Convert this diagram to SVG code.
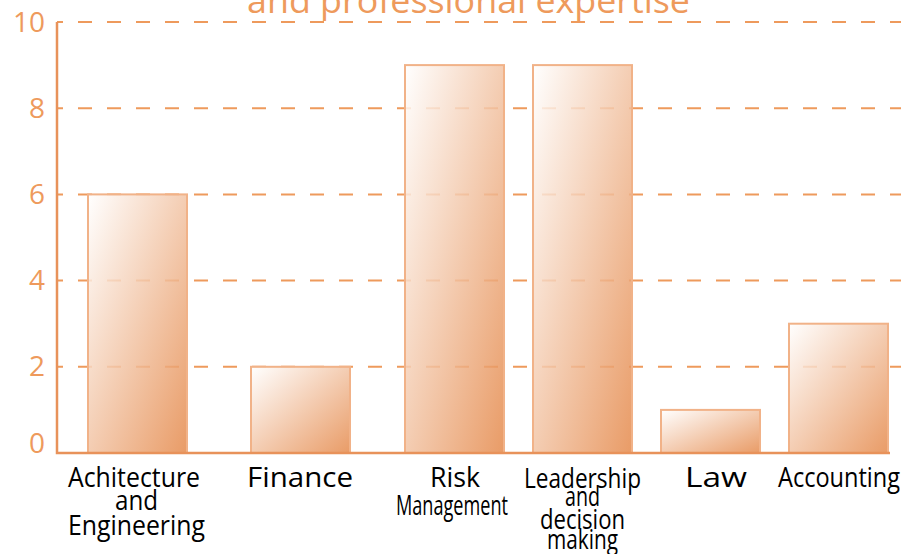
<svg xmlns="http://www.w3.org/2000/svg" width="901" height="554" viewBox="0 0 901 554">
<defs>
<linearGradient id="barGrad" x1="0" y1="0" x2="1" y2="1">
<stop offset="0" stop-color="#FFFFFF"/>
<stop offset="1" stop-color="#E58A4C"/>
</linearGradient>
</defs>
<style>
.grid{stroke:#EE9A5C;stroke-width:2;stroke-dasharray:14 15;stroke-dashoffset:8;fill:none}
.axis{stroke:#E8925A;stroke-width:2.5;fill:none}
.bar{fill:url(#barGrad);fill-opacity:0.85;stroke:#F1B288;stroke-width:2}
.ylab{font-family:"Open Sans","Noto Sans",sans-serif;font-size:28px;fill:#EE9A5C;text-anchor:end}
.title{font-family:"Open Sans","Noto Sans",sans-serif;font-size:35px;fill:#EE9A5C}
.xlab{font-family:"Open Sans","Noto Sans",sans-serif;font-size:28px;fill:#000000}
</style>
<rect width="901" height="554" fill="#FFFFFF"/>
<text class="title" x="247" y="13" textLength="443" lengthAdjust="spacingAndGlyphs">and professional expertise</text>
<g id="gridlines">
<line class="grid" x1="57" y1="22" x2="901" y2="22"/>
<line class="grid" x1="57" y1="108.2" x2="901" y2="108.2"/>
<line class="grid" x1="57" y1="194.4" x2="901" y2="194.4"/>
<line class="grid" x1="57" y1="280.6" x2="901" y2="280.6"/>
<line class="grid" x1="57" y1="366.8" x2="901" y2="366.8"/>
</g>
<g id="y-labels">
<text class="ylab" x="45" y="32">10</text>
<text class="ylab" x="45" y="118">8</text>
<text class="ylab" x="45" y="204">6</text>
<text class="ylab" x="45" y="290">4</text>
<text class="ylab" x="45" y="376">2</text>
<text class="ylab" x="45" y="453">0</text>
</g>
<g id="bar-architecture"><rect class="bar" x="88" y="194.4" width="99" height="258.6"/></g>
<g id="bar-finance"><rect class="bar" x="251" y="366.8" width="99" height="86.2"/></g>
<g id="bar-risk"><rect class="bar" x="405" y="65.1" width="99" height="387.9"/></g>
<g id="bar-leadership"><rect class="bar" x="533" y="65.1" width="99" height="387.9"/></g>
<g id="bar-law"><rect class="bar" x="661" y="409.9" width="99" height="43.1"/></g>
<g id="bar-accounting"><rect class="bar" x="789" y="323.7" width="99" height="129.3"/></g>
<g id="axes">
<polyline class="axis" points="57,22 57,453 890,453"/>
</g>
<g id="x-labels">
<text class="xlab" x="68" y="487" textLength="132" lengthAdjust="spacingAndGlyphs">Achitecture</text>
<text class="xlab" x="115" y="510" textLength="43" lengthAdjust="spacingAndGlyphs">and</text>
<text class="xlab" x="68" y="535" textLength="137" lengthAdjust="spacingAndGlyphs">Engineering</text>
<text class="xlab" x="247" y="487" font-size="31" textLength="106" lengthAdjust="spacingAndGlyphs">Finance</text>
<text class="xlab" x="430" y="487" textLength="50" lengthAdjust="spacingAndGlyphs">Risk</text>
<text class="xlab" x="396" y="515" textLength="112" lengthAdjust="spacingAndGlyphs">Management</text>
<text class="xlab" x="524" y="488" textLength="117" lengthAdjust="spacingAndGlyphs">Leadership</text>
<text class="xlab" x="565" y="506" textLength="35" lengthAdjust="spacingAndGlyphs">and</text>
<text class="xlab" x="540" y="529" textLength="85" lengthAdjust="spacingAndGlyphs">decision</text>
<text class="xlab" x="547" y="549" textLength="71" lengthAdjust="spacingAndGlyphs">making</text>
<text class="xlab" x="685" y="487" font-size="31" textLength="62" lengthAdjust="spacingAndGlyphs">Law</text>
<text class="xlab" x="778" y="487" textLength="122" lengthAdjust="spacingAndGlyphs">Accounting</text>
</g>
</svg>
